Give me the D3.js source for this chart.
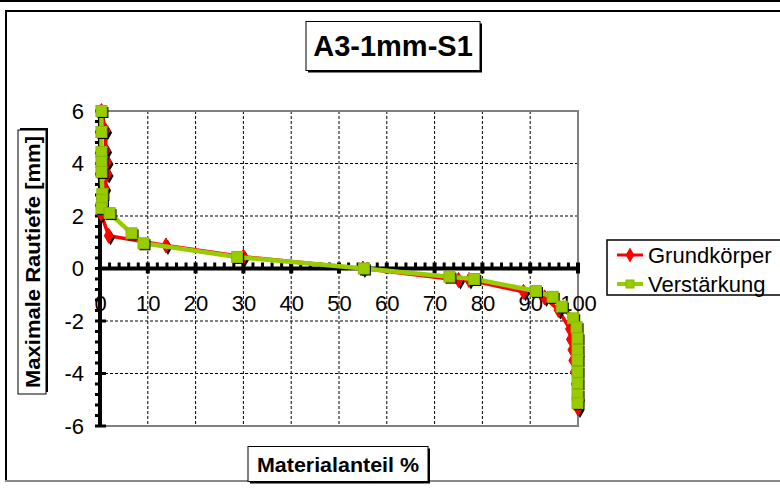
<!DOCTYPE html>
<html><head><meta charset="utf-8">
<script src="https://cdn.jsdelivr.net/npm/d3@7/dist/d3.min.js"></script>
<style>body{margin:0;background:#fff}svg{display:block}text{font-family:"Liberation Sans",Arial,sans-serif}</style>
</head><body>
<script>
const title = "A3-1mm-S1";
const xTitle = "Materialanteil %";
const yTitle = "Maximale Rautiefe [mm]";
const seriesNames = ["Grundkörper", "Verstärkung"];
const xTicks = [0,10,20,30,40,50,60,70,80,90,100];
const yTicks = [-6,-4,-2,0,2,4,6];

const grundX = [0.3, 1.2, 1.2, 1.5, 1.5, 1.0, 0.2, 1.8, 13.8, 30.0, 55.0, 75.0, 77.2, 88.6, 93.0, 95.9, 98.3, 98.5, 98.8, 99.0, 99.3, 99.5, 99.7, 100.0];
const grundY = [6.0, 5.25, 4.5, 4.05, 3.6, 3.05, 2.1, 1.25, 0.88, 0.45, 0.0, -0.44, -0.44, -0.89, -1.1, -1.58, -2.3, -2.7, -3.1, -3.5, -3.95, -4.4, -4.85, -5.33];
const verstX = [0.3, 0.3, 0.3, 0.3, 0.3, 0.5, 0.4, 0.3, 2.0, 6.6, 9.1, 28.7, 55.2, 73.1, 78.3, 91.2, 94.7, 96.6, 99.0, 99.7, 99.9, 99.9, 99.9, 99.9, 99.9, 99.9, 99.9];
const verstY = [6.0, 5.2, 4.44, 4.06, 3.68, 2.84, 2.6, 2.3, 2.11, 1.34, 0.96, 0.44, 0.0, -0.31, -0.4, -0.86, -1.08, -1.45, -1.9, -2.24, -2.66, -3.1, -3.49, -3.93, -4.37, -4.82, -5.13];

const W = 780, H = 492;
const svg = d3.select("body").append("svg").attr("width", W).attr("height", H);

// outer frame
svg.append("line").attr("x1",0).attr("x2",W).attr("y1",1).attr("y2",1).attr("stroke","#000").attr("stroke-width",2);
svg.append("line").attr("x1",6).attr("x2",6).attr("y1",11).attr("y2",481).attr("stroke","#000").attr("stroke-width",2);
svg.append("line").attr("x1",5).attr("x2",W).attr("y1",11).attr("y2",11).attr("stroke","#000").attr("stroke-width",2);
svg.append("line").attr("x1",5).attr("x2",W).attr("y1",481).attr("y2",481).attr("stroke","#888").attr("stroke-width",2);

const x = d3.scaleLinear().domain([0,100]).range([100,578]);
const y = d3.scaleLinear().domain([-6,6]).range([426,111]);

// gridlines
const g = svg.append("g");
g.selectAll(".vg").data(xTicks.filter(d=>d>0&&d<100)).enter().append("line")
  .attr("x1",d=>x(d)).attr("x2",d=>x(d)).attr("y1",y(6)).attr("y2",y(-6))
  .attr("stroke","#000").attr("stroke-width",1).attr("stroke-dasharray","3,2");
g.selectAll(".hg").data(yTicks.filter(d=>d!==0&&d>-6&&d<6)).enter().append("line")
  .attr("x1",x(0)).attr("x2",x(100)).attr("y1",d=>y(d)).attr("y2",d=>y(d))
  .attr("stroke","#000").attr("stroke-width",1).attr("stroke-dasharray","3,2");
// plot border
g.append("rect").attr("x",x(0)).attr("y",y(6)).attr("width",x(100)-x(0)).attr("height",y(-6)-y(6))
  .attr("fill","none").attr("stroke","#808080").attr("stroke-width",2);

// x axis line at y=0 with minor ticks
const ax = svg.append("g");
ax.append("line").attr("x1",x(0)).attr("x2",x(100)).attr("y1",y(0)).attr("y2",y(0)).attr("stroke","#000").attr("stroke-width",4);
ax.selectAll(".mx").data(d3.range(0,101,2)).enter().append("line")
  .attr("x1",d=>x(d)).attr("x2",d=>x(d)).attr("y1",y(0)-6).attr("y2",d=>d%10===0?y(0)+5:y(0))
  .attr("stroke","#000").attr("stroke-width",d=>d%10===0?4:3);
// y axis line at x=0 with minor ticks
ax.append("line").attr("x1",x(0)).attr("x2",x(0)).attr("y1",y(6)).attr("y2",y(-6)).attr("stroke","#000").attr("stroke-width",4);
ax.selectAll(".my").data(d3.range(-6,6.001,0.4)).enter().append("line")
  .attr("y1",d=>y(d)).attr("y2",d=>y(d)).attr("x1",x(0)-5).attr("x2",d=>Math.abs(Math.round(d*10)%20)===0?x(0)+6:x(0))
  .attr("stroke","#000").attr("stroke-width",3);

// tick labels via d3 axes
const xa = svg.append("g").attr("transform",`translate(0,${y(0)})`)
  .call(d3.axisBottom(x).tickValues(xTicks).tickSize(0).tickPadding(27).tickFormat(d=>String(d)));
xa.select(".domain").remove();
xa.selectAll("text").attr("font-size",22).attr("fill","#000").attr("font-family","Liberation Sans, Arial, sans-serif");
const ya = svg.append("g").attr("transform",`translate(${x(0)},0)`)
  .call(d3.axisLeft(y).tickValues(yTicks).tickSize(0).tickPadding(16).tickFormat(d=>String(d)));
ya.select(".domain").remove();
ya.selectAll("text").attr("font-size",22).attr("fill","#000").attr("font-family","Liberation Sans, Arial, sans-serif");

// series
const red = "#FF0000", green = "#99CC00";
const line = d3.line().x(d=>x(d[0])).y(d=>y(d[1]));
const grund = grundX.map((v,i)=>[v,grundY[i]]);
const verst = verstX.map((v,i)=>[v,verstY[i]]);
const diamond = d3.symbol().type(d3.symbolDiamond).size(65);

function drawSeries(data, color, width, kind){
  const s = svg.append("g");
  s.append("path").attr("d",line(data)).attr("fill","none").attr("stroke",color).attr("stroke-width",width).attr("stroke-linejoin","round");
  if(kind==="diamond"){
    s.selectAll(".sh").data(data).enter().append("path").attr("d",diamond)
      .attr("transform",d=>`translate(${x(d[0])+2},${y(d[1])+2})`).attr("fill","#000");
    s.selectAll(".mk").data(data).enter().append("path").attr("d",diamond)
      .attr("transform",d=>`translate(${x(d[0])},${y(d[1])})`).attr("fill",color).attr("stroke",color);
  } else {
    s.selectAll(".sh").data(data).enter().append("rect").attr("x",d=>x(d[0])-4).attr("y",d=>y(d[1])-4)
      .attr("width",11).attr("height",11).attr("fill","#000");
    s.selectAll(".mk").data(data).enter().append("rect").attr("x",d=>x(d[0])-5.5).attr("y",d=>y(d[1])-5.5)
      .attr("width",11).attr("height",11).attr("fill",color).attr("stroke","#88b800").attr("stroke-width",1);
  }
}
drawSeries(grund, red, 3.5, "diamond");
drawSeries(verst, green, 4.5, "square");

// boxes
function box(cx, cy, w, h, rot){
  const gb = svg.append("g").attr("transform",`translate(${cx},${cy}) rotate(${rot})`);
  gb.append("rect").attr("x",-w/2+2).attr("y",-h/2+2).attr("width",w).attr("height",h).attr("fill","#000");
  gb.append("rect").attr("x",-w/2).attr("y",-h/2).attr("width",w).attr("height",h).attr("fill","#fff").attr("stroke","#000").attr("stroke-width",1);
  return gb;
}
box(393,46,174,49,0).append("text").attr("text-anchor","middle").attr("dy","0.36em")
  .attr("font-size",29).attr("font-weight","bold").text(title);
box(338,464,180,35,0).append("text").attr("text-anchor","middle").attr("dy","0.36em")
  .attr("font-size",21).attr("font-weight","bold").attr("textLength",162).attr("lengthAdjust","spacingAndGlyphs").text(xTitle);
box(32,262,264,28,-90).append("text").attr("text-anchor","middle").attr("dy","0.36em")
  .attr("font-size",21).attr("font-weight","bold").attr("textLength",252).attr("lengthAdjust","spacingAndGlyphs").text(yTitle);

// legend
const lg = svg.append("g");
lg.append("rect").attr("x",607).attr("y",240).attr("width",190).attr("height",55).attr("fill","#fff").attr("stroke","#000").attr("stroke-width",1.5);
const items = [{name:seriesNames[0],color:red,kind:"diamond",yy:255},{name:seriesNames[1],color:green,kind:"square",yy:284}];
items.forEach(it=>{
  lg.append("line").attr("x1",617).attr("x2",643).attr("y1",it.yy).attr("y2",it.yy).attr("stroke",it.color).attr("stroke-width",it.kind==="diamond"?3:4);
  if(it.kind==="diamond") lg.append("path").attr("d",diamond).attr("transform",`translate(630,${it.yy})`).attr("fill",it.color);
  else lg.append("rect").attr("x",626).attr("y",it.yy-4).attr("width",8).attr("height",8).attr("fill",it.color).attr("stroke","#88b800");
  lg.append("text").attr("x",648).attr("y",it.yy).attr("dy","0.36em").attr("font-size",22).text(it.name);
});
</script>
</body></html>
